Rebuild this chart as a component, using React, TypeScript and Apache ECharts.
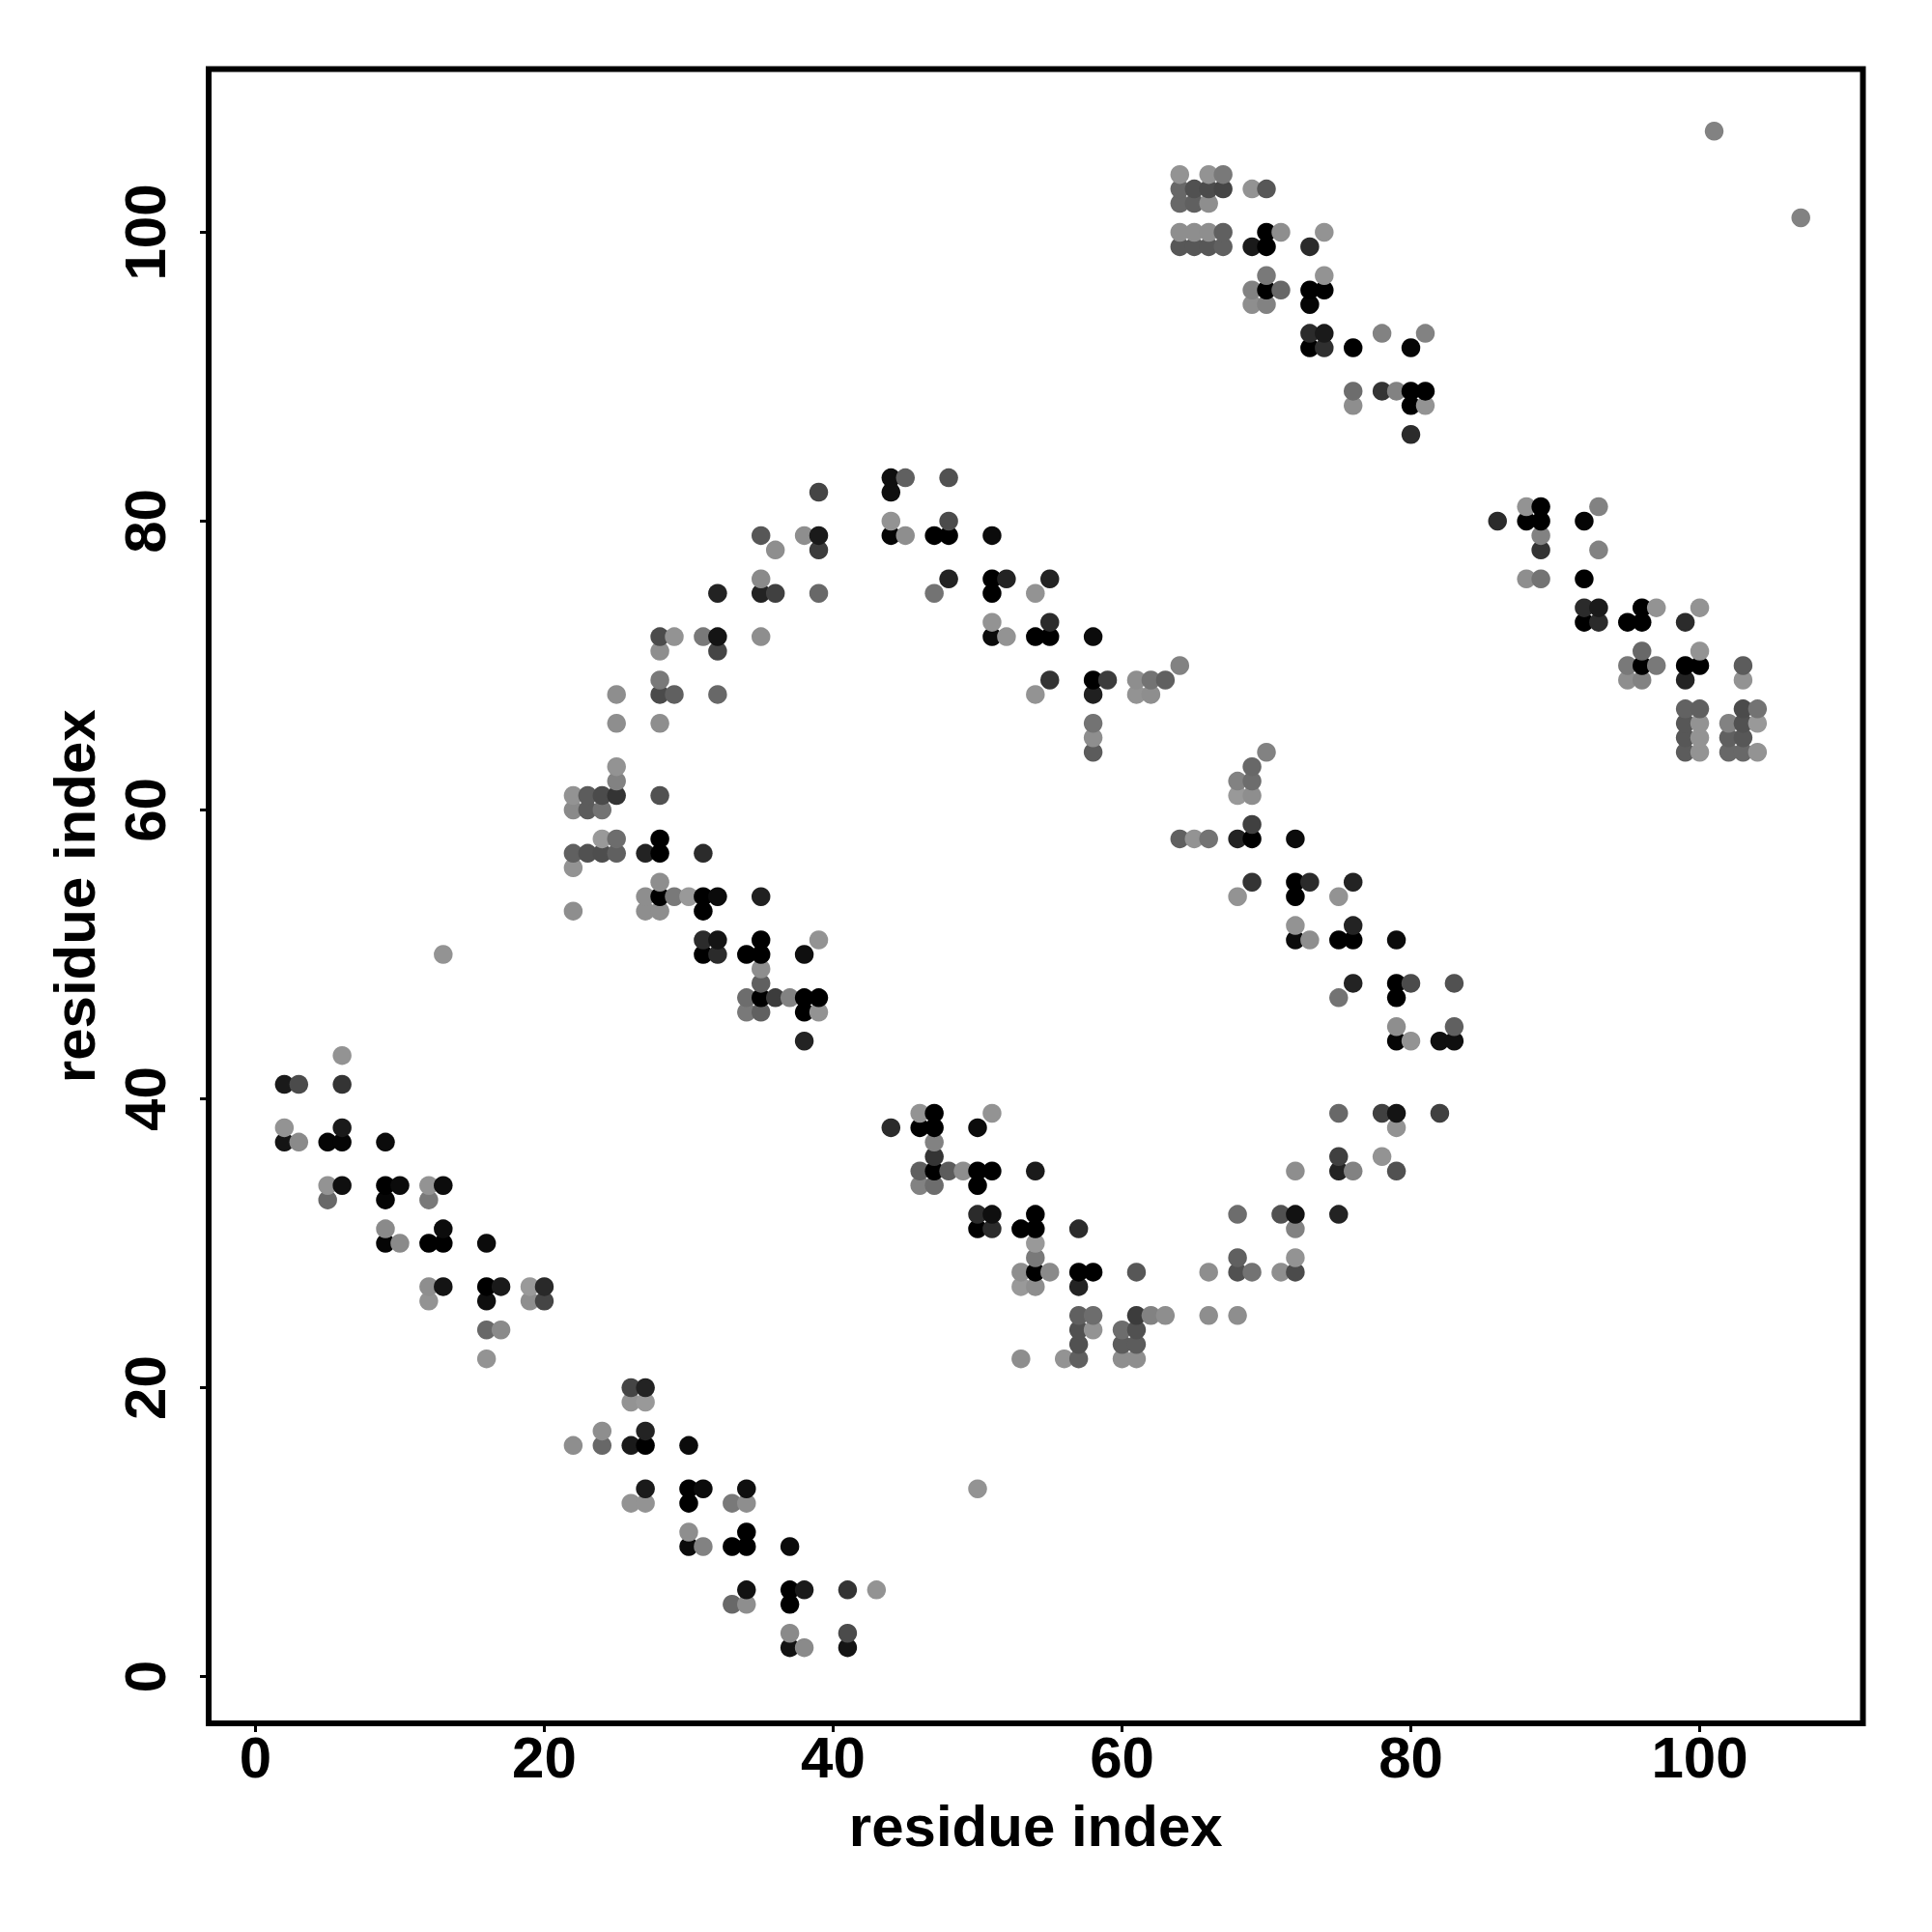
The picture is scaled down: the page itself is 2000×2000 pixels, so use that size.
import React, { useEffect, useRef } from "react";
import * as echarts from "echarts";

// Each contact: [residue i, residue j, strength in percent] (100 = darkest, 0 = lightest)
const stripLowerLeft = [
  [6,43,4],[2,41,83],[3,41,51],[6,41,66],[2,38,4],[2,37,87],[3,37,10],[5,37,97],[6,38,83],[6,37,97],[9,37,93],
  [5,34,4],[6,34,90],[5,33,32],[9,34,100],[10,34,93],[9,33,97],[12,34,4],[13,34,92],[12,33,21],
  [9,31,10],[9,30,97],[10,30,10],[12,30,100],[13,31,92],[13,30,100],[16,30,93],
  [12,27,7],[13,27,87],[12,26,4],[16,27,100],[17,27,83],[16,26,90],[19,27,0],[20,27,73],[19,26,7],[20,26,55],
  [16,24,32],[17,24,10],[16,22,4],[13,50,4],
];
const stripLower = [
  [26,20,55],[27,20,77],[26,19,4],[27,19,0],[22,16,7],[24,17,7],[24,16,32],[26,16,83],[27,17,77],[27,16,100],[30,16,93],
  [27,13,83],[26,12,4],[27,12,4],[30,13,100],[31,13,93],[30,12,100],[33,12,21],[34,13,90],[34,12,7],
  [30,10,7],[30,9,93],[31,9,15],[33,9,100],[34,10,100],[34,9,100],[37,9,93],
  [34,6,88],[33,5,32],[34,5,7],[37,6,100],[38,6,83],[37,5,100],[41,6,66],[43,6,4],
  [37,3,10],[37,2,88],[38,2,10],[41,3,51],[41,2,87],[50,13,4],
];
const stripMiddle = [
  [25,63,4],[25,62,15],[22,61,4],[23,61,40],[24,61,51],[25,61,66],[28,61,47],[22,60,10],[23,60,40],[24,60,25],
  [24,58,0],[25,58,29],[22,57,37],[23,57,47],[24,57,49],[25,57,37],[27,57,77],[28,58,100],[28,57,100],[31,57,72],[22,56,4],
  [28,55,7],[27,54,7],[28,54,100],[29,54,21],[30,54,0],[31,54,100],[32,54,93],[35,54,79],[22,53,7],[27,53,7],[28,53,7],[31,53,100],
  [31,51,72],[32,51,87],[31,50,100],[32,50,72],[35,51,100],[34,50,100],[35,50,100],[39,51,4],[38,50,90],
  [35,49,7],[35,48,37],[34,47,29],[35,47,100],[36,47,61],[37,47,15],[38,47,100],[39,47,100],[34,46,21],[35,46,37],[38,46,100],[39,46,4],[38,44,77],
];
const arcUpperLeft = [
  [39,82,55],[44,83,90],[45,83,37],[44,82,90],[48,83,47],[44,80,4],[44,79,97],[45,79,7],[48,80,51],[47,79,100],[48,79,100],
  [35,79,43],[36,78,7],[38,79,7],[39,79,83],[39,78,61],[32,75,77],[35,76,10],[35,75,77],[36,75,58],[39,75,32],[47,75,25],[48,76,77],
  [28,72,51],[29,72,4],[31,72,21],[32,72,87],[28,71,7],[32,71,55],[35,72,7],[28,69,21],[28,68,51],[29,68,37],[25,68,7],[32,68,32],
  [25,66,7],[28,66,7],
];
const arcUpperRight = [
  [51,79,93],[51,76,100],[52,76,77],[51,75,100],[55,76,77],[54,75,4],[51,73,4],[51,72,93],[52,72,4],[54,72,100],[55,73,72],[55,72,100],[58,72,93],
  [64,70,15],[55,69,66],[54,68,4],[58,69,100],[59,69,61],[61,69,7],[62,69,25],[63,69,37],[58,68,79],[61,68,4],[62,68,7],
  [58,66,25],[58,65,7],[58,64,40],
];
const stripTop = [
  [64,104,4],[66,104,4],[67,104,21],[64,103,32],[65,103,47],[66,103,51],[67,103,55],[69,103,4],[70,103,43],[64,102,32],[65,102,37],[66,102,7],
  [64,100,7],[65,100,7],[66,100,7],[67,100,37],[70,100,100],[71,100,7],[74,100,4],[64,99,43],[65,99,43],[66,99,43],[67,99,37],[69,99,83],[70,99,100],[73,99,72],
  [70,97,21],[74,97,4],[69,96,15],[70,96,100],[71,96,32],[73,96,100],[74,96,100],[69,95,7],[70,95,15],[73,95,97],
  [73,93,72],[74,93,83],[73,92,100],[74,92,69],[76,92,100],[78,93,15],[81,93,15],[80,92,97],
  [76,89,29],[76,88,7],[78,89,66],[79,89,15],[80,89,100],[81,89,100],[80,88,100],[81,88,4],[80,86,72],
  [101,107,15],[107,101,15],
];
const stripRight = [
  [88,81,4],[89,81,100],[93,81,15],[86,80,72],[88,80,100],[89,80,100],[92,80,97],[89,79,15],[89,78,66],[93,78,15],[88,76,7],[89,76,25],[92,76,100],
  [92,74,72],[93,74,83],[96,74,100],[97,74,4],[100,74,4],[92,73,100],[93,73,72],[95,73,100],[96,73,100],[99,73,72],
  [96,71,32],[100,71,4],[95,70,21],[96,70,100],[97,70,21],[99,70,100],[100,70,100],[103,70,40],[95,69,7],[96,69,15],[99,69,77],[103,69,4],
  [99,67,36],[100,67,37],[103,67,51],[104,67,25],[99,66,43],[100,66,4],[102,66,15],[103,66,47],[104,66,0],
  [99,65,43],[100,65,4],[102,65,37],[103,65,43],[99,64,40],[100,64,4],[102,64,32],[103,64,32],[104,64,4],
];
const arcMiddleRight = [
  [70,64,15],[69,63,32],[68,62,15],[69,62,29],[68,61,0],[69,61,7],[69,59,58],[64,58,37],[65,58,4],[66,58,25],[68,58,77],[69,58,100],[72,58,93],
  [69,55,66],[72,55,100],[73,55,72],[76,55,77],[68,54,4],[72,54,100],[75,54,4],[72,52,4],[76,52,77],[72,51,93],[73,51,7],[75,51,100],[76,51,100],[79,51,93],
  [76,48,77],[79,48,100],[80,48,51],[83,48,47],[75,47,25],[79,47,100],[79,45,7],[83,45,37],[79,44,97],[80,44,4],[82,44,90],[83,44,90],
];
const arcLowerRight = [
  [75,39,32],[78,39,58],[79,39,87],[82,39,58],[79,38,4],[75,36,58],[75,35,77],[76,35,15],[78,36,4],[79,35,47],[72,35,7],[75,32,77],
  [68,32,29],[71,32,47],[72,32,88],[72,31,15],[68,29,37],[68,28,47],[69,28,25],[71,28,7],[72,28,51],[72,29,4],[66,28,7],[66,25,7],[68,25,7],
];
const stripLowerMiddle = [
  [46,39,4],[47,39,100],[51,39,4],[44,38,72],[46,38,100],[47,38,100],[50,38,93],[47,37,15],[47,36,66],
  [46,35,37],[47,35,100],[48,35,40],[49,35,7],[50,35,100],[51,35,100],[54,35,83],[46,34,15],[47,34,29],[50,34,100],
  [50,32,72],[51,32,90],[54,32,100],[50,31,100],[51,31,72],[53,31,100],[54,31,100],[57,31,72],
  [54,30,0],[54,29,21],[53,28,7],[54,28,100],[55,28,10],[57,28,100],[58,28,100],[61,28,43],[53,27,0],[54,27,7],[57,27,77],
  [57,25,37],[58,25,29],[61,25,61],[62,25,15],[63,25,7],[57,24,47],[58,24,4],[60,24,29],[61,24,47],[57,23,47],[60,23,40],[61,23,40],
  [53,22,7],[56,22,4],[57,22,37],[60,22,7],[61,22,7],
];

const tickValues = [0, 20, 40, 60, 80, 100];
const axisTitle = "residue index";

const contacts = [
  ...stripLowerLeft, ...stripLower, ...stripMiddle, ...arcUpperLeft, ...arcUpperRight,
  ...stripTop, ...stripRight, ...arcMiddleRight, ...arcLowerRight, ...stripLowerMiddle,
].sort((a, b) => a[0] - b[0] || a[1] - b[1]);

const font = "'Liberation Sans', Arial, sans-serif";

function axis(isX: boolean) {
  return {
    type: "value" as const,
    min: -3.24,
    max: 111.3,
    name: axisTitle,
    nameLocation: "middle" as const,
    nameGap: isX ? 76 : 109,
    nameRotate: isX ? 0 : 90,
    nameTextStyle: { fontFamily: font, fontWeight: "bold" as const, fontSize: 60, color: "#000" },
    axisLine: { show: false, onZero: false },
    splitLine: { show: false },
    axisTick: {
      show: true,
      customValues: tickValues,
      length: 9,
      lineStyle: { color: "#000", width: 3 },
    },
    axisLabel: {
      show: true,
      customValues: tickValues,
      rotate: isX ? 0 : 90,
      margin: isX ? 5 : 36,
      fontFamily: font,
      fontWeight: "bold" as const,
      fontSize: 60,
      color: "#000",
    },
  };
}

export default function App() {
  const ref = useRef<HTMLDivElement>(null);
  useEffect(() => {
    const chart = echarts.init(ref.current!, null, { renderer: "svg" });
    chart.setOption({
      animation: false,
      backgroundColor: "#fff",
      grid: {
        left: 216,
        top: 71.5,
        width: 1712.5,
        height: 1712.5,
        show: true,
        borderColor: "#000",
        borderWidth: 6,
        backgroundColor: "transparent",
      },
      xAxis: axis(true),
      yAxis: axis(false),
      series: [
        {
          type: "scatter",
          data: contacts,
          symbol: "circle",
          symbolSize: 19.5,
          encode: { x: 0, y: 1 },
          itemStyle: {
            opacity: 1,
            color: (p: any) => {
              const g = Math.round(153 * (1 - p.value[2] / 100));
              return `rgb(${g},${g},${g})`;
            },
          },
        },
      ],
    });
    return () => chart.dispose();
  }, []);
  return <div ref={ref} style={{ position: "absolute", left: 0, top: 0, width: 2000, height: 2000 }} />;
}
